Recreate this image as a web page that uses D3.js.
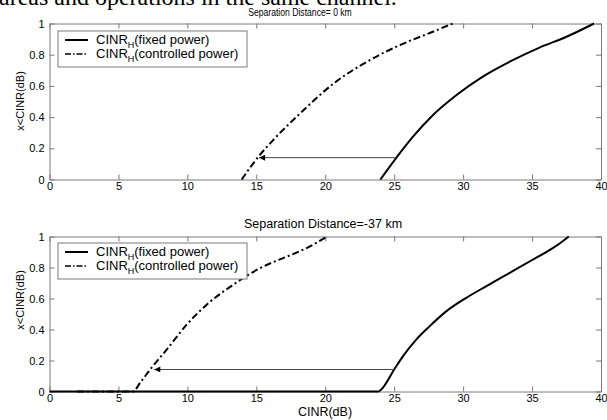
<!DOCTYPE html>
<html><head><meta charset="utf-8">
<script src="https://cdn.jsdelivr.net/npm/d3@7"></script>
<style>body{margin:0;background:#fff}svg{display:block}</style>
</head><body>
<svg id="c" width="607" height="420"></svg>
<script>
// ---- data ----
const xTicks = [0,5,10,15,20,25,30,35,40];
const yTicks = [0,0.2,0.4,0.6,0.8,1];
const yTickLabels = ["0","0.2","0.4","0.6","0.8","1"];
const titles = ["Separation Distance= 0 km","Separation Distance=-37 km"];
const seriesNames = ["fixed power","controlled power"];

const topFixedX = [24.0,25.15,26.35,27.8,29.5,31.4,33.6,35.5,37.5,39.5];
const topFixedY = [0,0.139,0.273,0.412,0.54,0.658,0.765,0.844,0.915,1.0];
const topCtrlX  = [13.94,15.14,16.3,18.17,20.6,23.0,25.4,27.8,29.25];
const topCtrlY  = [0,0.145,0.26,0.423,0.615,0.754,0.861,0.947,1.0];
const botFixedX = [0,23.86,24.06,25.0,25.63,26.6,27.56,28.77,30.2,31.66,33.35,35.04,36.5,37.2,37.66];
const botFixedY = [0,0,0.013,0.142,0.227,0.335,0.42,0.517,0.603,0.678,0.764,0.85,0.925,0.968,1.0];
const botCtrlX  = [2,6.04,6.6,7.3,8.5,9.95,11.4,13.33,15.27,17.2,18.16,20.15];
const botCtrlY  = [0,0,0.06,0.142,0.27,0.431,0.56,0.689,0.796,0.87,0.905,1.0];
// arrows: [fromX, toX, y]
const topArrow = [25.15,15.2,0.14];
const botArrow = [25.0,7.6,0.142];

const svg = d3.select("#c");
const font = "Liberation Sans, Arial, sans-serif";

// clipped document text at top
svg.append("text").attr("x",-1).attr("y",4.5)
  .attr("font-family","Liberation Serif, Times New Roman, serif")
  .attr("font-size",24).attr("fill","#000")
  .text("areas and operations in the same channel.");

svg.append("defs").append("marker").attr("id","ah")
  .attr("viewBox","0 0 10 10").attr("refX",10).attr("refY",5)
  .attr("markerWidth",8).attr("markerHeight",6).attr("markerUnits","userSpaceOnUse")
  .attr("orient","auto")
  .append("path").attr("d","M0,0L10,5L0,10Z").attr("fill","#000");

const L = 49.5, R = 601;
const panels = [
  {top:23.5, bot:179.5, title:titles[0], tx:300, ty:16, tfs:10.5, tsx:0.82, fx:topFixedX, fy:topFixedY, cx:topCtrlX, cy:topCtrlY, arrow:topArrow, ylab:101, leg:7.5},
  {top:236.5, bot:391.5, title:titles[1], tx:323, ty:228, tfs:12.5, tsx:1, fx:botFixedX, fy:botFixedY, cx:botCtrlX, cy:botCtrlY, arrow:botArrow, ylab:300, leg:6.5}
];

panels.forEach((p,i)=>{
  const x = d3.scaleLinear().domain([0,40]).range([L,R]);
  const y = d3.scaleLinear().domain([0,1]).range([p.bot,p.top]);
  const g = svg.append("g");

  const styleAxis = a => {
    a.selectAll("path.domain").attr("stroke","#7a7a7a");
    a.selectAll(".tick line").attr("stroke","#7a7a7a");
    a.selectAll("text").attr("font-family",font).attr("font-size",11).attr("fill","#000");
  };
  styleAxis(g.append("g").attr("transform",`translate(0,${p.bot})`)
    .call(d3.axisBottom(x).tickValues(xTicks).tickFormat(d3.format("d")).tickSize(-5).tickSizeOuter(0).tickPadding(3)));
  styleAxis(g.append("g").attr("transform",`translate(0,${p.top})`)
    .call(d3.axisTop(x).tickValues(xTicks).tickFormat("").tickSize(-5).tickSizeOuter(0)));
  styleAxis(g.append("g").attr("transform",`translate(${L},0)`)
    .call(d3.axisLeft(y).tickValues(yTicks).tickFormat((d,k)=>yTickLabels[k]).tickSize(-5).tickSizeOuter(0).tickPadding(5)));
  styleAxis(g.append("g").attr("transform",`translate(${R},0)`)
    .call(d3.axisRight(y).tickValues(yTicks).tickFormat("").tickSize(-5).tickSizeOuter(0)));

  // title
  svg.append("text").attr("transform",`translate(${p.tx},${p.ty}) scale(${p.tsx},1)`)
    .attr("text-anchor","middle")
    .attr("font-family",font).attr("font-size",p.tfs).text(p.title);
  // y label
  svg.append("text").attr("transform",`translate(24,${p.ylab}) rotate(-90)`)
    .attr("text-anchor","middle").attr("font-family",font).attr("font-size",11).text("x<CINR(dB)");

  const line = d3.line().x(d=>x(d[0])).y(d=>y(d[1])).curve(d3.curveMonotoneX);
  // controlled (dash-dot)
  g.append("path").attr("d",line(p.cx.map((v,k)=>[v,p.cy[k]])))
    .attr("fill","none").attr("stroke","#000").attr("stroke-width",2)
    .attr("stroke-dasharray","7,3,2,3");
  // fixed (solid)
  g.append("path").attr("d",line(p.fx.map((v,k)=>[v,p.fy[k]])))
    .attr("fill","none").attr("stroke","#000").attr("stroke-width",2);
  // arrow
  g.append("line").attr("x1",x(p.arrow[0])).attr("x2",x(p.arrow[1]))
    .attr("y1",y(p.arrow[2])).attr("y2",y(p.arrow[2]))
    .attr("stroke","#444").attr("stroke-width",1).attr("marker-end","url(#ah)");

  // legend
  const lx = 58, ly = p.top + p.leg;
  const lg = svg.append("g").attr("transform",`translate(${lx},${ly})`);
  lg.append("rect").attr("width",189).attr("height",36).attr("fill","#fff").attr("stroke","#7a7a7a");
  seriesNames.forEach((s,k)=>{
    const yy = 9 + k*14;
    lg.append("line").attr("x1",7).attr("x2",30).attr("y1",yy).attr("y2",yy)
      .attr("stroke","#000").attr("stroke-width",k?1.5:2)
      .attr("stroke-dasharray",k?"6,2,1.5,2":null);
    const t = lg.append("text").attr("x",38).attr("y",yy+4)
      .attr("font-family",font).attr("font-size",13);
    t.append("tspan").text("CINR");
    t.append("tspan").attr("dy",4).attr("font-size",9).text("H");
    t.append("tspan").attr("dy",-4).text("(" + s + ")");
  });
});

svg.append("text").attr("x",325).attr("y",416).attr("text-anchor","middle")
  .attr("font-family",font).attr("font-size",12.5).text("CINR(dB)");
</script>
</body></html>
